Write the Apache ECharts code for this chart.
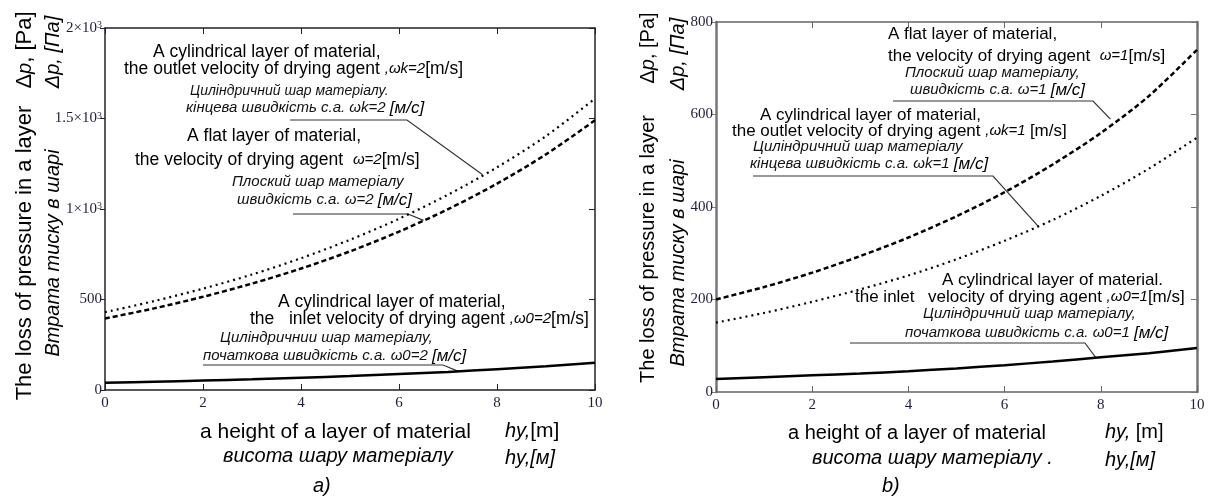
<!DOCTYPE html>
<html>
<head>
<meta charset="utf-8">
<script src="https://cdn.jsdelivr.net/npm/echarts@6/dist/echarts.min.js"></script>
<style>
  html, body { margin: 0; padding: 0; background: #fff; }
  #chart { width: 1209px; height: 500px; }
</style>
</head>
<body>
<div id="chart"></div>
<script>
// layer height, m
const heights = [0, 1, 2, 3, 4, 5, 6, 7, 8, 9, 10];

// a) drying agent velocity 2 m/s
const cylOutletA = [430, 491, 560, 638, 728, 830, 946, 1079, 1230, 1403, 1610];
const flatA      = [395, 451, 515, 588, 671, 766, 875, 999, 1140, 1302, 1490];
const cylInletA  = [40, 46, 52, 59, 68, 77, 88, 100, 115, 131, 150];

// b) drying agent velocity 1 m/s
const flatB      = [200, 227, 258, 294, 334, 380, 432, 492, 560, 640, 740];
const cylOutletB = [150, 171, 195, 222, 252, 287, 327, 372, 424, 483, 550];
const cylInletB  = [28, 32, 36, 40, 45, 51, 58, 66, 75, 84, 95];

const SANS = "'Liberation Sans', Arial, sans-serif";
const SERIF = "'Liberation Serif', 'Times New Roman', serif";
const tickColor = '#1e1e3a';

const chart = echarts.init(document.getElementById('chart'));

function pairs(arr) {
  return heights.map((h, i) => [h, arr[i]]);
}

function sciLabel(v) {
  if (v >= 1000) return '{m|' + (v / 1000) + '×10}{s|3}';
  return '{m|' + v + '}';
}

function xAxes(gi, color, w) {
  const line = { show: true, onZero: false, lineStyle: { color: color, width: w } };
  return [
    { type: 'value', gridIndex: gi, min: 0, max: 10, interval: 2, position: 'bottom',
      axisLine: line, axisTick: { show: true, inside: true, length: 6, lineStyle: { color: color } },
      axisLabel: { color: tickColor, fontFamily: SERIF, fontSize: 15, margin: 6 },
      splitLine: { show: false } },
    { type: 'value', gridIndex: gi, min: 0, max: 10, interval: 2, position: 'top',
      axisLine: line, axisTick: { show: true, inside: true, length: 6, lineStyle: { color: color } },
      axisLabel: { show: false }, splitLine: { show: false } }
  ];
}

function yAxes(gi, max, step, color, w, fmt) {
  const line = { show: true, onZero: false, lineStyle: { color: color, width: w } };
  return [
    { type: 'value', gridIndex: gi, min: 0, max: max, interval: step, position: 'left',
      axisLine: line, axisTick: { show: true, inside: false, length: 5, lineStyle: { color: color } },
      axisLabel: {
        color: tickColor, fontFamily: SERIF, fontSize: 15, margin: 3, formatter: fmt,
        rich: {
          m: { fontFamily: SERIF, fontSize: 15, color: tickColor },
          s: { fontFamily: SERIF, fontSize: 10, color: tickColor, verticalAlign: 'top' }
        }
      },
      splitLine: { show: false } },
    { type: 'value', gridIndex: gi, min: 0, max: max, interval: step, position: 'right',
      axisLine: line, axisTick: { show: true, inside: true, length: 6, lineStyle: { color: color } },
      axisLabel: { show: false }, splitLine: { show: false } }
  ];
}

function curve(name, xi, yi, arr, type, width) {
  return {
    name: name, type: 'line', xAxisIndex: xi, yAxisIndex: yi,
    data: pairs(arr), showSymbol: false, smooth: 0.3,
    lineStyle: { color: '#000', width: width, type: type, cap: 'butt' }
  };
}

chart.setOption({
  animation: false,
  backgroundColor: '#fff',
  grid: [
    { left: 105, top: 28, width: 490, height: 362 },
    { left: 716, top: 22, width: 481, height: 370 }
  ],
  xAxis: xAxes(0, '#222', 1.5).concat(xAxes(1, '#666', 1.5)),
  yAxis: yAxes(0, 2000, 500, '#222', 1.5, sciLabel)
    .concat(yAxes(1, 800, 200, '#777', 2.5, v => '{m|' + v + '}')),
  series: [
    curve('cylOutletA', 0, 0, cylOutletA, [2, 4], 2.2),
    curve('flatA', 0, 0, flatA, [5, 3], 2.5),
    curve('cylInletA', 0, 0, cylInletA, 'solid', 2.5),
    curve('flatB', 2, 2, flatB, [5, 3], 2.5),
    curve('cylOutletB', 2, 2, cylOutletB, [2, 4], 2.2),
    curve('cylInletB', 2, 2, cylInletB, 'solid', 2.5)
  ]
});

// ---- annotations ----
const richSt = {
  n: { fontFamily: SANS, fontSize: 17.5, fill: '#000' },
  m: { fontFamily: SANS, fontSize: 17, fill: '#000' },
  i: { fontFamily: SANS, fontSize: 15, fontStyle: 'italic', fill: '#000' },
  u: { fontFamily: SANS, fontSize: 15, fontStyle: 'italic', fill: '#111' },
  u2: { fontFamily: SANS, fontSize: 14, fontStyle: 'italic', fill: '#111' },
  b: { fontFamily: SANS, fontSize: 17, fontStyle: 'italic', fill: '#000' },
  t: { fontFamily: SANS, fontSize: 21, fill: '#000' },
  tl: { fontFamily: SANS, fontSize: 22, fill: '#000' },
  tr: { fontFamily: SANS, fontSize: 20, fill: '#000' },
  ti: { fontFamily: SANS, fontSize: 20, fontStyle: 'italic', fill: '#000' }
};

function txt(x, y, text, rot) {
  return {
    type: 'text', x: x, y: y, rotation: rot || 0, silent: true,
    style: { text: text, rich: richSt, align: rot ? 'center' : 'left', verticalAlign: 'middle' }
  };
}

function leader(x0, x1, y, xi, yi, pt) {
  const p = chart.convertToPixel({ xAxisIndex: xi, yAxisIndex: yi }, pt);
  return {
    type: 'polyline', silent: true,
    shape: { points: [[x0, y], [x1, y], p] },
    style: { stroke: '#333', lineWidth: 1.2, fill: null }
  };
}

const R = Math.PI / 2;
const graphics = [
  // a) chart
  txt(153, 52, '{n|A cylindrical layer of material,}'),
  txt(124, 69, '{n|the outlet velocity of drying agent }{i|,ωk=2}{n|[m/s]}'),
  txt(190, 91, '{u2|Циліндричний шар матеріалу.}'),
  txt(186, 108, '{u|кінцева швидкість с.а. ωk=2 }{b|[м/с]}'),
  leader(290, 407, 120, 0, 0, [7.7, 1190]),

  txt(187, 136, '{n|A flat layer of material,}'),
  txt(135, 160, '{n|the velocity of drying agent  }{i|ω=2}{n|[m/s]}'),
  txt(232, 182, '{u|Плоский шар матеріалу}'),
  txt(237, 200, '{u|швидкість с.а. ω=2 }{b|[м/с]}'),
  leader(293, 408, 214, 0, 0, [6.5, 937]),

  txt(278, 302, '{n|A cylindrical layer of material,}'),
  txt(250, 319, '{n|the   inlet velocity of drying agent }{i|,ω0=2}{n|[m/s]}'),
  txt(220, 338, '{u|Цилiндричнии шар матеріалу,}'),
  txt(203, 356, '{u|початкова швидкість с.а. ω0=2 }{b|[м/с]}'),
  leader(203, 443, 365, 0, 0, [7.2, 104]),

  txt(200, 432, '{t|a height of a layer of material}'),
  txt(505, 431, '{ti|hy,}{t|[m]}'),
  txt(223, 456, '{ti|висота шару матеріалу}'),
  txt(505, 458, '{ti|hy,[м]}'),
  txt(313, 486, '{ti|a)}'),

  txt(25, 253, '{tl|The loss of pressure in a layer}', R),
  txt(25, 50, '{tl|Δ}{ti|p}{tl|, [Pa]}', R),
  txt(53, 253, '{ti|Втрата тиску в шарі}', R),
  txt(53, 52, '{ti|Δp, [Па]}', R),

  // b) chart
  txt(888, 34, '{m|A flat layer of material,}'),
  txt(888, 56, '{m|the velocity of drying agent  }{i|ω=1}{m|[m/s]}'),
  txt(905, 73, '{u|Плоский шар матеріалу,}'),
  txt(910, 90, '{u|швидкість с.а. ω=1 }{b|[м/с]}'),
  leader(893, 1093, 101, 2, 2, [8.2, 590]),

  txt(760, 115, '{m|A cylindrical layer of material,}'),
  txt(732, 131, '{m|the outlet velocity of drying agent }{i|,ωk=1 }{m|[m/s]}'),
  txt(753, 147, '{u|Циліндричний шар матеріалу}'),
  txt(750, 164, '{u|кінцева швидкість с.а. ωk=1 }{b|[м/с]}'),
  leader(753, 993, 176, 2, 2, [6.7, 358]),

  txt(942, 280, '{m|A cylindrical layer of material.}'),
  txt(855, 297, '{m|the inlet}'),
  txt(928, 297, '{m|velocity of drying agent }{i|,ω0=1}{m|[m/s]}'),
  txt(923, 314, '{u|Циліндричний шар матеріалу,}'),
  txt(905, 333, '{u|початкова швидкість с.а. ω0=1 }{b|[м/с]}'),
  leader(850, 1085, 343, 2, 2, [7.9, 74]),

  txt(788, 433, '{tr|a height of a layer of material}'),
  txt(1105, 432, '{ti|hy,}{tr| [m]}'),
  txt(812, 458, '{ti|висота шару матеріалу .}'),
  txt(1105, 460, '{ti|hy,[м]}'),
  txt(882, 486, '{ti|b)}'),

  txt(648, 249, '{tr|The loss of pressure in a layer}', R),
  txt(648, 48, '{tr|Δ}{ti|p}{tr|, [Pa]}', R),
  txt(678, 263, '{ti|Втрата тиску в шарі}', R),
  txt(678, 54, '{ti|Δp, [Па]}', R)
];

chart.setOption({ graphic: graphics });
</script>
</body>
</html>
